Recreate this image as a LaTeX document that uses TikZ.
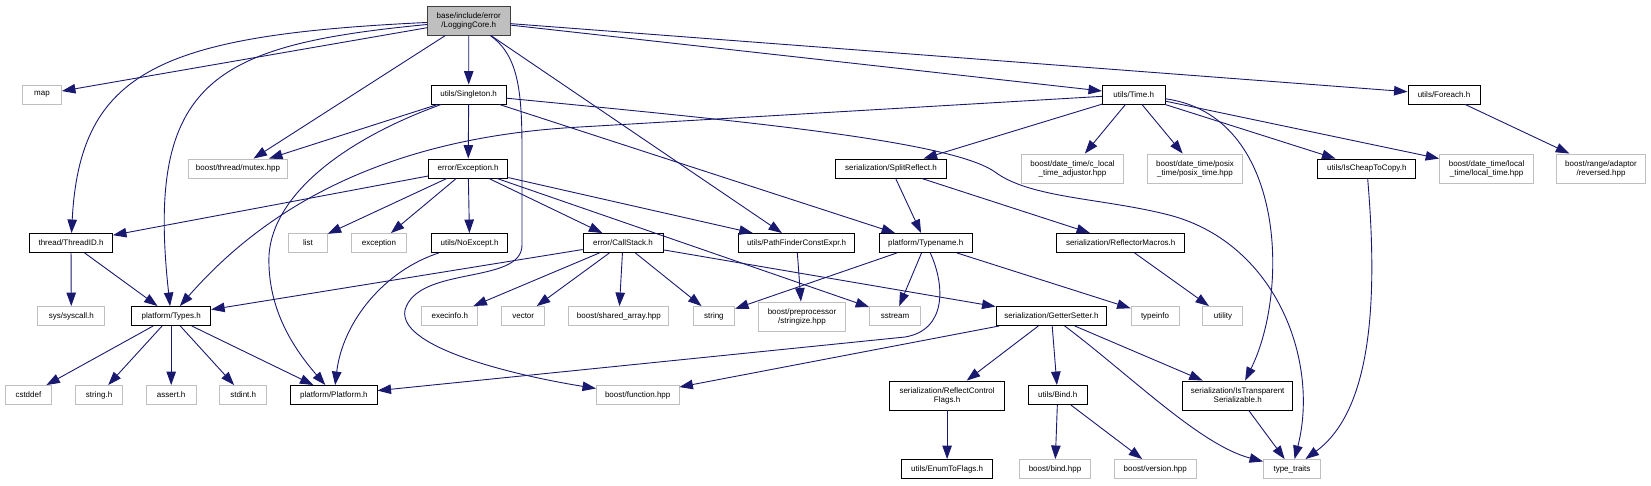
\documentclass[tikz,border=0pt]{standalone}
\usepackage{fontspec}
\setmainfont{Liberation Sans}
\usetikzlibrary{arrows.meta}
\definecolor{edgeblue}{HTML}{191970}
\definecolor{extgray}{HTML}{BFBFBF}
\definecolor{rootgray}{HTML}{BFBFBF}
\definecolor{rootline}{HTML}{404040}

\begin{document}
\begin{tikzpicture}[x=1pt, y=-1pt,
    box/.style = {inner sep=0pt, minimum height=19pt, align=center, font=\fontsize{8}{9}\selectfont, line width=0.9pt},
    main/.style = {box, draw=black},
    ext/.style = {box, draw=extgray},
    root/.style = {box, draw=rootline, fill=rootgray},
    two/.style = {minimum height=29pt},
    link/.style = {draw=edgeblue, line width=0.9pt, -{Triangle[length=13.5pt, width=9.5pt]}},
    every edge/.style = {link}]
    \useasboundingbox (0,0) rectangle (1651,485);

    \node[root, two, minimum width=82.5] (lc) at (468.75,20.5) {base/include/error\\/LoggingCore.h};

    \node[ext, minimum width=39] (map) at (42,94.5) {map};
    \node[main, minimum width=74.6] (sgl) at (468.7,94.5) {utils/Singleton.h};
    \node[main, minimum width=62.5] (tmh) at (1133.7,94.5) {utils/Time.h};
    \node[main, minimum width=72] (fre) at (1444,94.5) {utils/Foreach.h};

    \node[ext, minimum width=99.7] (mtx) at (238,168.5) {boost/thread/mutex.hpp};
    \node[main, minimum width=79.3] (exc) at (468.2,168.5) {error/Exception.h};
    \node[main, minimum width=110.7] (spr) at (891,168.5) {serialization/SplitReflect.h};
    \node[ext, two, minimum width=101.4] (cla) at (1072.5,168.5) {boost/date\_time/c\_local\\\_time\_adjustor.hpp};
    \node[ext, two, minimum width=95] (pxt) at (1195,168.5) {boost/date\_time/posix\\\_time/posix\_time.hpp};
    \node[main, minimum width=97.9] (icc) at (1366.8,168.5) {utils/IsCheapToCopy.h};
    \node[ext, two, minimum width=94] (lct) at (1486.6,168.5) {boost/date\_time/local\\\_time/local\_time.hpp};
    \node[ext, two, minimum width=88.6] (rev) at (1601,168.5) {boost/range/adaptor\\/reversed.hpp};

    \node[main, minimum width=83] (tid) at (71,243) {thread/ThreadID.h};
    \node[ext, minimum width=38.5] (lst) at (308,243) {list};
    \node[ext, minimum width=54.4] (exn) at (379,243) {exception};
    \node[main, minimum width=76.4] (nex) at (469.6,243) {utils/NoExcept.h};
    \node[main, minimum width=80] (cst) at (623,243) {error/CallStack.h};
    \node[main, minimum width=116] (pfc) at (796.6,243) {utils/PathFinderConstExpr.h};
    \node[main, minimum width=93.5] (tpn) at (925.7,243) {platform/Typename.h};
    \node[main, minimum width=127.8] (rfm) at (1120.7,243) {serialization/ReflectorMacros.h};

    \node[ext, minimum width=66.8] (sys) at (71.3,316) {sys/syscall.h};
    \node[main, minimum width=79] (tyh) at (171.2,316) {platform/Types.h};
    \node[ext, minimum width=56] (exi) at (449.8,316) {execinfo.h};
    \node[ext, minimum width=42.9] (vec) at (523.2,316) {vector};
    \node[ext, minimum width=100] (sha) at (618.9,316) {boost/shared\_array.hpp};
    \node[ext, minimum width=41.4] (str) at (713.9,316) {string};
    \node[ext, two, minimum width=86.8] (stz) at (802,316.5) {boost/preprocessor\\/stringize.hpp};
    \node[ext, minimum width=50.7] (sst) at (895,316) {sstream};
    \node[main, minimum width=110.8] (gst) at (1051.4,316) {serialization/GetterSetter.h};
    \node[ext, minimum width=47.9] (tyi) at (1155,316) {typeinfo};
    \node[ext, minimum width=40] (utl) at (1222.9,316) {utility};

    \node[ext, minimum width=46.8] (csd) at (28.4,395) {cstddef};
    \node[ext, minimum width=46.8] (sth) at (99.1,395) {string.h};
    \node[ext, minimum width=49.6] (ash) at (171.2,395) {assert.h};
    \node[ext, minimum width=47.1] (sdi) at (243.2,395) {stdint.h};
    \node[main, minimum width=86.4] (plf) at (333.9,395) {platform/Platform.h};
    \node[ext, minimum width=82.5] (fnh) at (637.7,395) {boost/function.hpp};
    \node[main, two, minimum width=115] (rcf) at (947.1,395.5) {serialization/ReflectControl\\Flags.h};
    \node[main, minimum width=58.9] (bnd) at (1057.7,395) {utils/Bind.h};
    \node[main, two, minimum width=110.4] (its) at (1237.7,395.5) {serialization/IsTransparent\\Serializable.h};

    \node[main, minimum width=90.7] (etf) at (947.1,469) {utils/EnumToFlags.h};
    \node[ext, minimum width=70.7] (bbh) at (1055,469) {boost/bind.hpp};
    \node[ext, minimum width=81.4] (ver) at (1155.3,469) {boost/version.hpp};
    \node[ext, minimum width=57] (ttr) at (1292,469) {type\_traits};

    \path
    (lc) edge (map)
    (lc) edge (mtx)
    (lc) edge (sgl)
    (lc) edge (pfc)
    (lc) edge (tmh)
    (lc) edge (fre)

    (sgl) edge (mtx)
    (sgl) edge (exc)
    (sgl) edge (tpn)

    (tmh) edge (spr)
    (tmh) edge (cla)
    (tmh) edge (pxt)
    (tmh) edge (icc)
    (tmh) edge (lct)
    (fre) edge (rev)

    (exc) edge (tid)
    (exc) edge (lst)
    (exc) edge (exn)
    (exc) edge (nex)
    (exc) edge (cst)
    (exc) edge (pfc)
    (exc) edge (sst)

    (spr) edge (tpn)
    (spr) edge (rfm)

    (tid) edge (sys)
    (tid) edge (tyh)

    (cst) edge (tyh)
    (cst) edge (exi)
    (cst) edge (vec)
    (cst) edge (sha)
    (cst) edge (str)
    (cst) edge (gst)

    (pfc) edge (stz)
    (tpn) edge (str)
    (tpn) edge (sst)
    (tpn) edge (tyi)
    (rfm) edge (utl)

    (tyh) edge (csd)
    (tyh) edge (sth)
    (tyh) edge (ash)
    (tyh) edge (sdi)
    (tyh) edge (plf)

    (gst) edge (fnh)
    (gst) edge (rcf)
    (gst) edge (bnd)
    (gst) edge (its)

    (rcf) edge (etf)
    (bnd) edge (bbh)
    (bnd) edge (ver)
    (its) edge (ttr)
    ;

    % curved connectors
    \draw[link] (lc) .. controls (161,35) and (80,70) .. (tid);
    \draw[link] (lc) .. controls (214,45) and (145,80) .. (tyh);
    \draw[link] (lc) .. controls (518,55) and (522,90) .. (522,150) -- (522,245)
        .. controls (522,285) and (418,265) .. (405,310) .. controls (397,350) and (530,378) .. (fnh);
    \draw[link] (sgl) .. controls (343,140) and (273,195) .. (269,255) .. controls (267,310) and (295,350) .. (plf);
    \draw[link] (sgl) .. controls (730,120) and (950,140) .. (995,172) .. controls (1030,198) and (1100,198) .. (1165,214)
        .. controls (1275,240) and (1320,360) .. (ttr);
    \draw[link] (tmh) -- (580,127) .. controls (430,135) and (290,180) .. (tyh);
    \draw[link] (tmh) .. controls (1285,115) and (1290,290) .. (its);
    \draw[link] (nex) .. controls (386,270) and (343,320) .. (plf);
    \draw[link] (tpn) .. controls (945,285) and (947,330) .. (905,337) -- (plf);
    \draw[link] (icc) .. controls (1378,300) and (1372,410) .. (ttr);
    \draw[link] (gst) .. controls (1130,375) and (1200,445) .. (ttr);
\end{tikzpicture}
\end{document}
